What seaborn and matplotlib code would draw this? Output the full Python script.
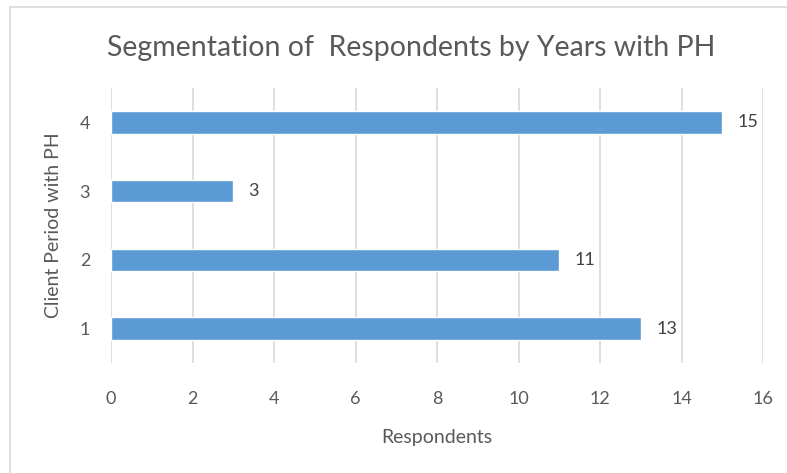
import matplotlib
matplotlib.use("Agg")
import matplotlib.pyplot as plt
import seaborn as sns
import pandas as pd
from matplotlib.lines import Line2D

categories = ["4", "3", "2", "1"]
values = [15, 3, 11, 13]
x_ticks = [0, 2, 4, 6, 8, 10, 12, 14, 16]
title = "Segmentation of  Respondents by Years with PH"
x_label = "Respondents"
y_label = "Client Period with PH"

sns.set_theme(style="white")
plt.rcParams["font.family"] = ["Lato", "DejaVu Sans"]

df = pd.DataFrame({"period": categories, "respondents": values})

fig = plt.figure(figsize=(7.87, 4.73), dpi=100)
ax = fig.add_axes([111/787, 1-363/473, (763-111)/787, (363-88)/473])

sns.barplot(data=df, y="period", x="respondents", order=categories,
            color="#5B9BD5", saturation=1, width=0.33, ax=ax, orient="h")

ax.set_xlim(0, 16)
ax.set_xticks(x_ticks)
ax.grid(axis="x", color="#d9d9d9", linewidth=1.2)
ax.set_axisbelow(True)
for s in ax.spines.values():
    s.set_visible(False)
ax.tick_params(axis="both", length=0, colors="#595959", labelsize=13)
ax.tick_params(axis="x", pad=20)
ax.tick_params(axis="y", pad=15)

ax.bar_label(ax.containers[0], padding=11, fontsize=13, color="#404040")

ax.set_xlabel(x_label, fontsize=14, color="#595959", labelpad=16)
ax.set_ylabel(y_label, fontsize=14, color="#595959", labelpad=13)
fig.text(411/787, 1-48/473, title, ha="center", va="center", fontsize=20.5, color="#595959")

# frame lines (top and left)
fig.add_artist(Line2D([10/787, 10/787], [0, 1-7/473], transform=fig.transFigure, color="#d9d9d9", linewidth=1.2))
fig.add_artist(Line2D([10/787, 1], [1-7/473, 1-7/473], transform=fig.transFigure, color="#d9d9d9", linewidth=1.2))

fig.savefig("out.png", dpi=100)
